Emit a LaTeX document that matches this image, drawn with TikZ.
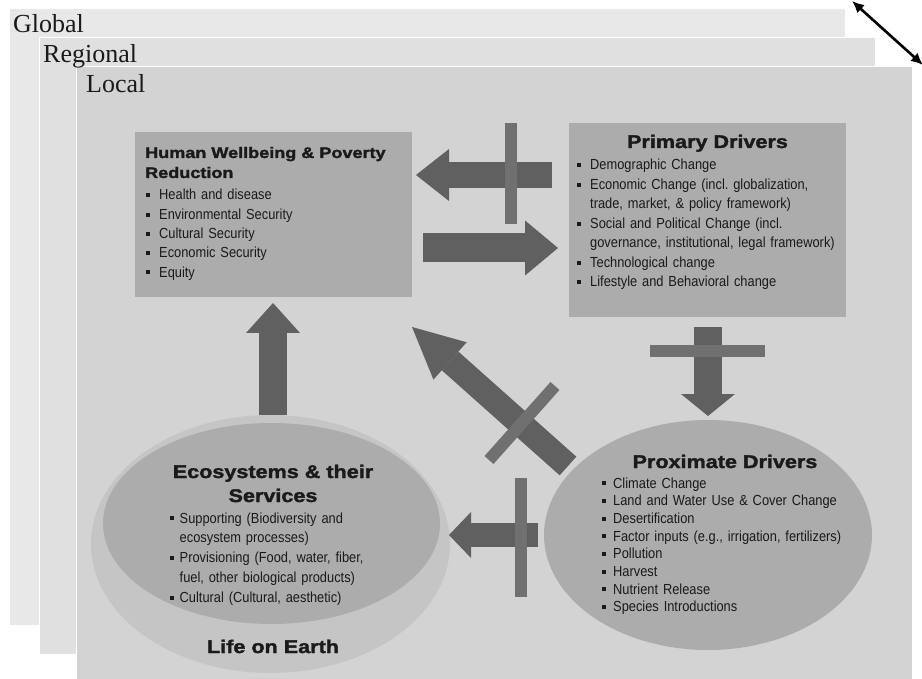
\documentclass[tikz,border=0pt]{standalone}
\usepackage{fontspec}
\setmainfont{Liberation Serif}
\newfontfamily\bodyfont{Liberation Sans}[FakeStretch=0.88]
\newfontfamily\headfont{Liberation Sans}[FakeStretch=1.18, BoldFeatures={FakeBold=1.8}]
\usepackage{tikz}
\usetikzlibrary{arrows.meta}
\usetikzlibrary{shapes.geometric}
\usetikzlibrary{positioning}

\definecolor{globalgray}{HTML}{E8E8E8}
\definecolor{regiongray}{HTML}{E0E0E0}
\definecolor{localgray}{HTML}{D3D3D3}
\definecolor{boxgray}{HTML}{ACACAC}
\definecolor{lifegray}{HTML}{C5C5C5}
\definecolor{arrowgray}{HTML}{606060}
\definecolor{bargray}{HTML}{707070}
\definecolor{inkgray}{HTML}{1A1A1A}

\newcommand{\itm}[2][13pt]{\hangindent=#1\hangafter=1\noindent\makebox[#1][l]{\rule[2.7pt]{4pt}{4pt}}#2\par}
\newcommand{\nxt}{\hfil\break}

\begin{document}
\begin{tikzpicture}[x=1pt, y=-1pt,
    panel/.style={draw=white, line width=1pt},
    drvbox/.style={rectangle, fill=boxgray, inner sep=0pt, outer sep=0pt},
    oval/.style={ellipse, fill=boxgray, inner sep=0pt, outer sep=0pt},
    scalelabel/.style={anchor=base west, inner sep=0pt, text=inkgray, font=\fontsize{26}{30}\selectfont},
    headtext/.style={inner sep=0pt, text=inkgray, font=\headfont\bfseries\fontsize{18.3}{24}\selectfont},
    items/.style={anchor=base west, inner sep=0pt, text=inkgray, text width=#1},
    blockarrow/.style n args={3}{draw=arrowgray, line width=#1, -{Triangle[length=#2, width=#3, line width=0pt]}},
    barline/.style={draw=bargray, line width=12pt}
  ]
        \useasboundingbox (0,0) rectangle (922,679);
        \path [panel, fill=globalgray] (9,9) rectangle (845,625);
        \path [panel, fill=regiongray] (39,38) rectangle (875,654);
        \path [panel, fill=localgray] (76,67) rectangle (912,690);
        \node [scalelabel] (gl) at (13,33) {Global};
        \node [scalelabel] (rg) at (43,63) {Regional};
        \node [scalelabel] (lc) at (86,93) {Local};
        \coordinate (sc1) at (852,1);
        \coordinate (sc2) at (923,65);
        \draw [line width=2.6pt, {Latex[length=12pt,width=11pt]}-{Latex[length=12pt,width=11pt]}] (sc1) -- (sc2);

        \node [drvbox, minimum width=277, minimum height=165] (hw) at (273.5,214.5) {};
        \node [drvbox, minimum width=277, minimum height=194] (pd) at (707.5,220) {};
        \node [oval, fill=lifegray, minimum width=359, minimum height=258] (le) at (270.5,544) {};
        \node [oval, minimum width=337, minimum height=201] (es) at (271.5,523.5) {};
        \node [oval, minimum width=328, minimum height=230] (px) at (708,535) {};

        \coordinate (a1s) at (552,175);
        \coordinate (a1e) at (416,175);
        \coordinate (a2s) at (423,248);
        \coordinate (a2e) at (558,248);
        \coordinate (a3s) at (708,327);
        \coordinate (a3e) at (708,416);
        \coordinate (a4s) at (568,466);
        \coordinate (a4e) at (412,327);
        \coordinate (a5s) at (538,535);
        \coordinate (a5e) at (449,535);
        \coordinate (a6s) at (273,415);
        \coordinate (a6e) at (273,303);
        \draw [blockarrow={26pt}{33pt}{52pt}] (a1s) -- (a1e);
        \draw [blockarrow={29pt}{33pt}{55pt}] (a2s) -- (a2e);
        \draw [blockarrow={28pt}{22pt}{54pt}] (a3s) -- (a3e);
        \draw [blockarrow={25pt}{51pt}{50pt}] (a4s) -- (a4e);
        \draw [blockarrow={24pt}{22pt}{46pt}] (a5s) -- (a5e);
        \draw [blockarrow={28pt}{30pt}{54pt}] (a6s) -- (a6e);

        \coordinate (b1s) at (511,123);
        \coordinate (b1e) at (511,224);
        \coordinate (b2s) at (650,351);
        \coordinate (b2e) at (765,351);
        \coordinate (b3s) at (555,386);
        \coordinate (b3e) at (489,460);
        \coordinate (b4s) at (521,478);
        \coordinate (b4e) at (521,597);
        \draw [barline] (b1s) -- (b1e);
        \draw [barline] (b2s) -- (b2e);
        \draw [barline] (b3s) -- (b3e);
        \draw [barline] (b4s) -- (b4e);

        \node [headtext, anchor=base west, align=left, font=\headfont\bfseries\fontsize{15.3}{20}\selectfont] (hwt) at (145,178) {Human Wellbeing \& Poverty\\Reduction};
        \node [items=260pt, font=\bodyfont\fontsize{14.6}{19.3}\selectfont] (hwl) at (146,200) {\itm{Health and disease}\itm{Environmental Security}\itm{Cultural Security}\itm{Economic Security}\itm{Equity}};

        \node [headtext, anchor=base] (pdt) at (707.5,148) {Primary Drivers};
        \node [items=262pt, font=\bodyfont\fontsize{14.6}{19.5}\selectfont] (pdl) at (577,170) {\itm{Demographic Change}\itm{Economic Change (incl.\ globalization,\nxt trade, market, \& policy framework)}\itm{Social and Political Change (incl.\nxt governance, institutional, legal framework)}\itm{Technological change}\itm{Lifestyle and Behavioral change}};

        \node [headtext, anchor=base] (pxt) at (725,468) {Proximate Drivers};
        \node [items=262pt, font=\bodyfont\fontsize{14.6}{17.7}\selectfont] (pxl) at (602,488) {\itm[11pt]{Climate Change}\itm[11pt]{Land and Water Use \& Cover Change}\itm[11pt]{Desertification}\itm[11pt]{Factor inputs (e.g., irrigation, fertilizers)}\itm[11pt]{Pollution}\itm[11pt]{Harvest}\itm[11pt]{Nutrient Release}\itm[11pt]{Species Introductions}};

        \node [headtext, anchor=base, align=center] (est) at (273,502) {Ecosystems \& their\\Services};
        \node [items=240pt, font=\bodyfont\fontsize{14.6}{19.8}\selectfont] (esl) at (170,523) {\itm[9.5pt]{Supporting (Biodiversity and\nxt ecosystem processes)}\itm[9.5pt]{Provisioning (Food, water, fiber,\nxt fuel, other biological products)}\itm[9.5pt]{Cultural (Cultural, aesthetic)}};
        \node [headtext, anchor=base] (let) at (273,653) {Life on Earth};
\end{tikzpicture}
\end{document}
